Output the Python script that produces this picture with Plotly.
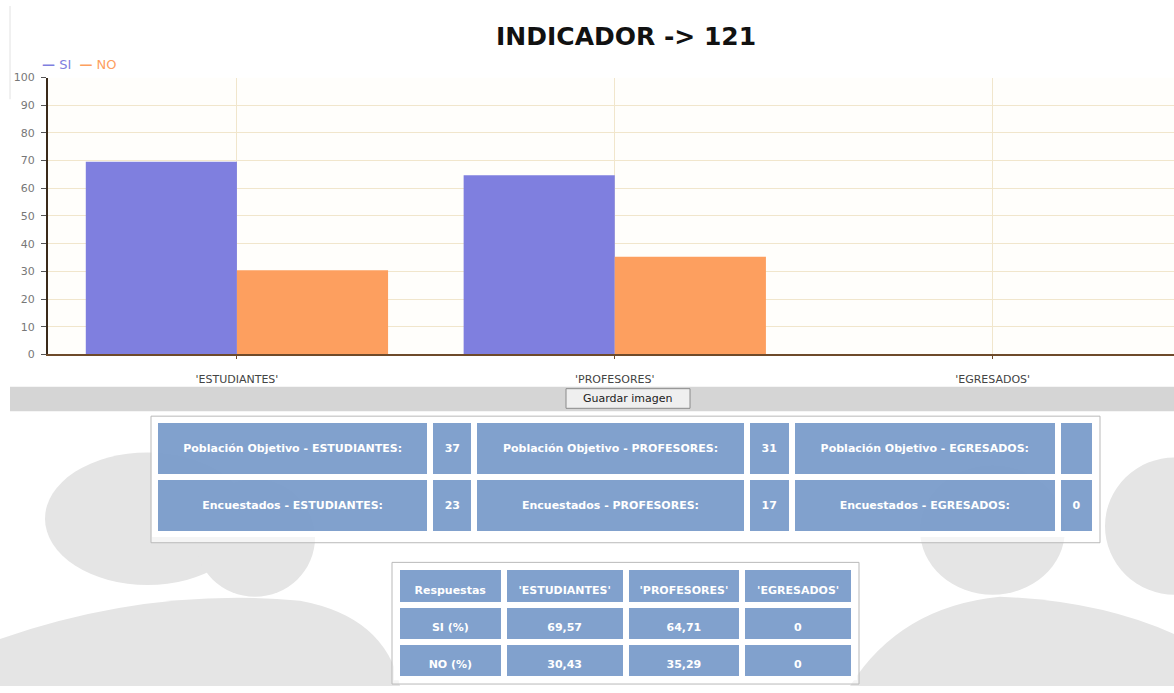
import plotly.graph_objects as go

# ---- data ----
categories = ["'ESTUDIANTES'", "'PROFESORES'", "'EGRESADOS'"]
groups = ["ESTUDIANTES", "PROFESORES", "EGRESADOS"]
series_names = ["SI", "NO"]
si_pct = [69.57, 64.71, 0]
no_pct = [30.43, 35.29, 0]
poblacion_objetivo = [37, 31, None]
encuestados = [23, 17, 0]
y_ticks = list(range(0, 101, 10))

W, H = 1174, 693
SI_COLOR = "#7f7fdf"
NO_COLOR = "#fd9f5f"
CELL_FILL = "rgba(112,148,198,0.88)"
CELL_FONT = dict(color="white", size=11, family="DejaVu Sans")
SMALL_PAD = "<span style='font-size:4px'>&nbsp;</span><br>"


def px(x):
    return x / W


def py(y):
    return 1 - y / H


def pct(v):
    return f"{v:.2f}".replace(".", ",") if v else "0"


def b(s, pad="&nbsp;<br>"):
    # a blank first line pushes the label down towards the middle of the cell
    return pad + f"<b>{s}</b>"


fig = go.Figure()

# ---- bar chart ----
fig.add_trace(go.Bar(x=categories, y=si_pct, name=series_names[0],
                     marker=dict(color=SI_COLOR, line=dict(width=0)),
                     showlegend=False))
fig.add_trace(go.Bar(x=categories, y=no_pct, name=series_names[1],
                     marker=dict(color=NO_COLOR, line=dict(width=0)),
                     showlegend=False))

# ---- summary tables ----
pop_row = []
enc_row = []
for g, p, e in zip(groups, poblacion_objetivo, encuestados):
    pop_row += [b(f"Población Objetivo - {g}:"), b("" if p is None else p)]
    enc_row += [b(f"Encuestados - {g}:"), b(e)]

fig.add_trace(go.Table(
    domain=dict(x=[px(155), px(1096)], y=[py(544), py(422)]),
    columnwidth=[275, 44, 272, 45, 266, 37],
    header=dict(values=pop_row, fill_color=CELL_FILL, height=57,
                line=dict(color="white", width=6), align="center", font=CELL_FONT),
    cells=dict(values=[[v] for v in enc_row], fill_color=CELL_FILL, height=57,
               line=dict(color="white", width=6), align="center", font=CELL_FONT),
))

resp_header = [b("Respuestas", SMALL_PAD)] + [b(c, SMALL_PAD) for c in categories]
resp_cols = [[b("SI (%)", SMALL_PAD), b("NO (%)", SMALL_PAD)]] + \
            [[b(pct(s), SMALL_PAD), b(pct(n), SMALL_PAD)] for s, n in zip(si_pct, no_pct)]
fig.add_trace(go.Table(
    domain=dict(x=[px(397), px(855)], y=[py(688), py(572)]),
    columnwidth=[107, 122, 117, 112],
    header=dict(values=resp_header, fill_color=CELL_FILL, height=37,
                line=dict(color="white", width=6), align="center", font=CELL_FONT),
    cells=dict(values=resp_cols, fill_color=CELL_FILL, height=37,
               line=dict(color="white", width=6), align="center", font=CELL_FONT),
))

# ---- decorative page elements ----
WM = "#e5e5e5"
shapes = [
    # faint watermark silhouettes
    dict(type="circle", x0=px(45), x1=px(250), y0=py(590), y1=py(455), fillcolor=WM),
    dict(type="circle", x0=px(195), x1=px(315), y0=py(602), y1=py(482), fillcolor=WM),
    dict(type="path", path=f"M {px(0)},{py(693)} L {px(0)},{py(645)} Q {px(150)},{py(592)} {px(300)},{py(606)} Q {px(385)},{py(622)} {px(400)},{py(693)} Z", fillcolor=WM),
    dict(type="circle", x0=px(920), x1=px(1065), y0=py(600), y1=py(468), fillcolor=WM),
    dict(type="circle", x0=px(1105), x1=px(1245), y0=py(600), y1=py(460), fillcolor=WM),
    dict(type="path", path=f"M {px(850)},{py(693)} Q {px(900)},{py(612)} {px(1000)},{py(602)} Q {px(1100)},{py(606)} {px(1174)},{py(640)} L {px(1174)},{py(693)} Z", fillcolor=WM),
    # table frames
    dict(type="rect", x0=px(151), x1=px(1100), y0=py(547), y1=py(418),
         fillcolor="rgba(255,255,255,0.6)", line=dict(color="#b9b9b9", width=1)),
    dict(type="rect", x0=px(392), x1=px(859), y0=py(691), y1=py(567),
         fillcolor="rgba(255,255,255,0.6)", line=dict(color="#b9b9b9", width=1)),
    # grey toolbar band with save button
    dict(type="rect", x0=px(10), x1=px(1174), y0=py(413), y1=py(388),
         fillcolor="#d5d5d5", line=dict(width=0)),
    dict(type="rect", x0=px(566), x1=px(690), y0=py(410), y1=py(390),
         fillcolor="#efefef", line=dict(color="#8a8a8a", width=1)),
    # page border on the left
    dict(type="line", x0=px(10), x1=px(10), y0=py(95), y1=py(0),
         line=dict(color="#e2e2e2", width=1)),
]
for s in shapes:
    s.setdefault("xref", "paper")
    s.setdefault("yref", "paper")
    s.setdefault("layer", "below")
    s.setdefault("line", dict(width=0))

annotations = [
    dict(text="<b>INDICADOR -> 121</b>", x=px(626), y=py(31), xref="paper", yref="paper",
         xanchor="center", yanchor="middle", showarrow=False,
         font=dict(size=25, color="#111", family="DejaVu Sans")),
    dict(text=f"<span style='color:{SI_COLOR}'><b>—</b> {series_names[0]}</span>  "
              f"<span style='color:{NO_COLOR}'><b>—</b> {series_names[1]}</span>",
         x=px(40), y=py(60), xref="paper", yref="paper", xanchor="left", yanchor="middle",
         showarrow=False, font=dict(size=13, family="DejaVu Sans")),
    dict(text="Guardar imagen", x=px(628), y=py(400), xref="paper", yref="paper",
         xanchor="center", yanchor="middle",
         showarrow=False, font=dict(size=11, color="#222", family="DejaVu Sans")),
]

fig.update_layout(
    width=W, height=H,
    margin=dict(l=0, r=0, t=0, b=0),
    paper_bgcolor="white",
    plot_bgcolor="#fffefb",
    barmode="group",
    bargap=0.2,
    bargroupgap=0,
    shapes=shapes,
    annotations=annotations,
    xaxis=dict(domain=[px(48), 1], range=[-0.5, 2.48],
               showline=True, linecolor="#6e4a2a", linewidth=2,
               showgrid=True, gridcolor="#f1e6cc", gridwidth=1,
               ticks="outside", ticklen=3, tickcolor="#6e4a2a",
               ticklabelstandoff=10,
               tickfont=dict(size=11, color="#444", family="DejaVu Sans"),
               fixedrange=True),
    yaxis=dict(domain=[py(355), py(73)], range=[0, 100],
               tickvals=y_ticks, ticktext=[str(t) for t in y_ticks],
               showline=True, linecolor="#3a2a1a", linewidth=2,
               showgrid=True, gridcolor="#f1e6cc", gridwidth=1,
               ticks="outside", ticklen=5, tickcolor="#555",
               ticklabelstandoff=4,
               tickfont=dict(size=11, color="#777", family="DejaVu Sans"),
               zeroline=False, fixedrange=True),
)

fig.write_html("out.html")
